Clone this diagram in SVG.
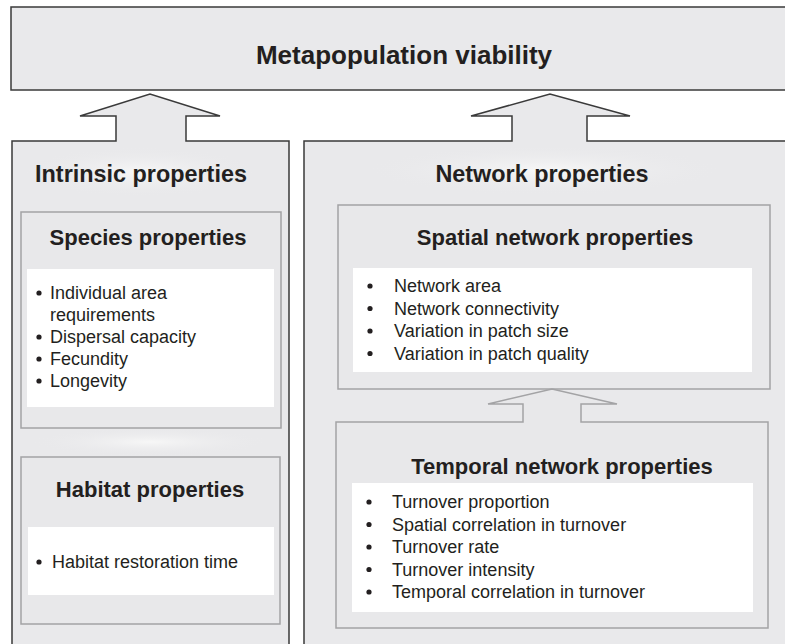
<svg xmlns="http://www.w3.org/2000/svg" width="785" height="644" viewBox="0 0 785 644">
<defs>
<style>
.outer{fill:#e9e9eb;stroke:#3a3a3a;stroke-width:1.5}
.inner{fill:#e8e8ea;stroke:#a3a3a5;stroke-width:1.5}
.white{fill:#ffffff}
.h{font-family:"Liberation Sans",Arial,sans-serif;font-weight:bold;font-size:22px;fill:#231f20;text-anchor:middle}
.big{font-size:23.4px}
.t{font-family:"Liberation Sans",Arial,sans-serif;font-size:18px;fill:#231f20}
</style>
<radialGradient id="glow" cx="0.5" cy="0.5" r="0.5">
<stop offset="0" stop-color="#f7f7f7"/>
<stop offset="1" stop-color="#e9e9eb" stop-opacity="0"/>
</radialGradient>
</defs>
<rect width="785" height="644" fill="#ffffff"/>
<g id="top">
<rect x="11" y="7" width="790" height="83" class="outer"/>
<text x="404" y="64" class="h" style="font-size:26px">Metapopulation viability</text>
</g>
<g id="intrinsic">
<path class="outer" d="M12,660 V141 H116 V116 H80 L150,94 L220,116 H186 V141 H289 V660 Z"/>
<ellipse cx="140" cy="172" rx="120" ry="25" fill="url(#glow)"/>
<ellipse cx="150" cy="442" rx="120" ry="14" fill="url(#glow)"/>
<text x="141" y="182" class="h big">Intrinsic properties</text>
</g>
<g id="species">
<rect x="21" y="212" width="260" height="216" class="inner"/>
<text x="148" y="245" class="h">Species properties</text>
<rect x="27" y="269" width="247" height="138" class="white"/>
<g class="t">
<circle cx="39" cy="293" r="2.6" fill="#231f20"/>
<text x="50" y="299">Individual area</text>
<text x="50" y="321">requirements</text>
<circle cx="39" cy="337" r="2.6" fill="#231f20"/>
<text x="50" y="343">Dispersal capacity</text>
<circle cx="39" cy="359" r="2.6" fill="#231f20"/>
<text x="50" y="365">Fecundity</text>
<circle cx="39" cy="381" r="2.6" fill="#231f20"/>
<text x="50" y="387">Longevity</text>
</g>
</g>
<g id="habitat">
<rect x="21" y="457" width="259" height="167" class="inner"/>
<text x="150" y="497" class="h">Habitat properties</text>
<rect x="28" y="527" width="246" height="68" class="white"/>
<g class="t">
<circle cx="39" cy="562" r="2.6" fill="#231f20"/>
<text x="52" y="568">Habitat restoration time</text>
</g>
</g>
<g id="network">
<path class="outer" d="M304,660 V141 H512 V116 H471 L550,94 L630,116 H587 V141 H800 V660 Z"/>
<ellipse cx="545" cy="170" rx="180" ry="25" fill="url(#glow)"/>
<text x="542" y="182" class="h big">Network properties</text>
</g>
<g id="spatial">
<rect x="338" y="205" width="432" height="184" class="inner"/>
<text x="555" y="245" class="h">Spatial network properties</text>
<rect x="353" y="268" width="399" height="104" class="white"/>
<g class="t">
<circle cx="370" cy="286" r="2.6" fill="#231f20"/>
<text x="394" y="292">Network area</text>
<circle cx="370" cy="308.5" r="2.6" fill="#231f20"/>
<text x="394" y="314.5">Network connectivity</text>
<circle cx="370" cy="331" r="2.6" fill="#231f20"/>
<text x="394" y="337">Variation in patch size</text>
<circle cx="370" cy="353.5" r="2.6" fill="#231f20"/>
<text x="394" y="359.5">Variation in patch quality</text>
</g>
</g>
<g id="temporal">
<path class="inner" d="M336,628 V422 H523 V404 H488 L552,389 L617,404 H581 V422 H768 V628 Z"/>
<text x="562" y="474" class="h">Temporal network properties</text>
<rect x="352" y="483" width="401" height="129" class="white"/>
<g class="t">
<circle cx="369" cy="502" r="2.6" fill="#231f20"/>
<text x="392" y="508">Turnover proportion</text>
<circle cx="369" cy="524.5" r="2.6" fill="#231f20"/>
<text x="392" y="530.5">Spatial correlation in turnover</text>
<circle cx="369" cy="547" r="2.6" fill="#231f20"/>
<text x="392" y="553">Turnover rate</text>
<circle cx="369" cy="569.5" r="2.6" fill="#231f20"/>
<text x="392" y="575.5">Turnover intensity</text>
<circle cx="369" cy="592" r="2.6" fill="#231f20"/>
<text x="392" y="598">Temporal correlation in turnover</text>
</g>
</g>
<g id="connectors"></g>
</svg>
